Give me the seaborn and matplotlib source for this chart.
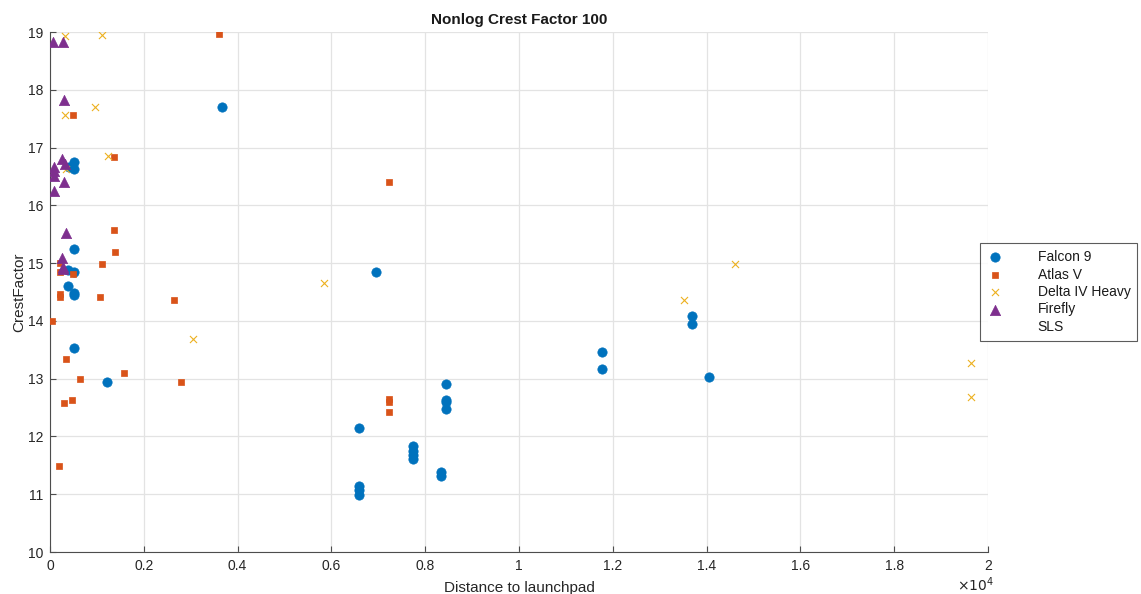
import matplotlib
matplotlib.use("Agg")
import matplotlib.pyplot as plt
import seaborn as sns
import numpy as np

# ---- data (distance in raw units, crest factor) ----
falcon_x = [3670, 400, 510, 510, 510, 380, 510, 380, 510, 510, 510, 1215,
            6590, 6590, 6590, 6590, 6950, 7750, 7750, 7750, 7750, 8340, 8340,
            8440, 8440, 8440, 8440, 13680, 13680, 14050, 11780, 11780]
falcon_y = [17.70, 16.67, 16.75, 16.63, 15.25, 14.88, 14.84, 14.61, 14.48, 14.44, 13.53, 12.94,
            12.15, 11.15, 11.08, 10.98, 14.84, 11.84, 11.75, 11.68, 11.61, 11.38, 11.31,
            12.91, 12.63, 12.60, 12.47, 14.09, 13.94, 13.03, 13.46, 13.17]

atlas_x = [3600, 484, 1365, 1358, 1390, 1100, 213, 213, 484, 213, 213, 1070, 2640,
           43, 335, 646, 1585, 2800, 305, 476, 185, 7230, 7235, 7235, 7235]
atlas_y = [18.97, 17.56, 16.84, 15.58, 15.20, 14.99, 15.00, 14.85, 14.82, 14.47, 14.42, 14.42, 14.36,
           13.99, 13.34, 13.00, 13.10, 12.95, 12.58, 12.63, 11.49, 16.40, 12.65, 12.59, 12.43]

delta_x = [320, 1100, 960, 320, 1230, 340, 5840, 3040, 13520, 14600, 19640, 19640]
delta_y = [18.93, 18.95, 17.71, 17.57, 16.85, 16.63, 14.65, 13.69, 14.36, 14.98, 13.27, 12.69]

firefly_x = [70, 270, 300, 256, 320, 85, 85, 85, 300, 85, 335, 262, 284, 284]
firefly_y = [18.83, 18.83, 17.82, 16.80, 16.72, 16.67, 16.60, 16.50, 16.40, 16.24, 15.52, 15.08, 14.94, 14.89]

sls_x = []
sls_y = []

series_names = ["Falcon 9", "Atlas V", "Delta IV Heavy", "Firefly", "SLS"]
colors = ["#0072BD", "#D95319", "#EDB120", "#7E2F8E", "#000000"]

x_ticks = [0, 2000, 4000, 6000, 8000, 10000, 12000, 14000, 16000, 18000, 20000]
x_tick_labels = ["0", "0.2", "0.4", "0.6", "0.8", "1", "1.2", "1.4", "1.6", "1.8", "2"]
y_ticks = [10, 11, 12, 13, 14, 15, 16, 17, 18, 19]

# ---- style ----
sns.set_theme(style="whitegrid")
plt.rcParams["font.family"] = ["Liberation Sans", "DejaVu Sans"]

fig = plt.figure(figsize=(11.41, 5.94), dpi=100)
ax = fig.add_axes([50 / 1141, 1 - 552 / 594, (988 - 50) / 1141, (552 - 32) / 594])

sns.scatterplot(x=falcon_x, y=falcon_y, ax=ax, marker="o", color=colors[0],
                s=45, edgecolor=colors[0], linewidth=0.5, label=series_names[0], zorder=3)
sns.scatterplot(x=atlas_x, y=atlas_y, ax=ax, marker="s", color=colors[1],
                s=24, edgecolor=colors[1], linewidth=0.5, label=series_names[1], zorder=3)
sns.scatterplot(x=delta_x, y=delta_y, ax=ax, marker="x", color=colors[2],
                s=26, linewidth=0.8, label=series_names[2], zorder=3)
sns.scatterplot(x=firefly_x, y=firefly_y, ax=ax, marker="^", color=colors[3],
                s=55, edgecolor=colors[3], linewidth=0.5, label=series_names[3], zorder=3)
ax.plot(sls_x, sls_y, linestyle="none", marker="none", label=series_names[4])

ax.set_xlim(0, 20000)
ax.set_ylim(10, 19)
ax.set_xticks(x_ticks)
ax.set_xticklabels(x_tick_labels)
ax.set_yticks(y_ticks)

ax.set_facecolor("white")
ax.grid(True, color="#e3e3e3", linewidth=0.9)
for side in ["top", "right"]:
    ax.spines[side].set_visible(False)
for side in ["left", "bottom"]:
    ax.spines[side].set_color("#4d4d4d")
    ax.spines[side].set_linewidth(0.8)
ax.tick_params(axis="both", direction="in", length=4, width=0.8, color="#4d4d4d",
               labelsize=10, labelcolor="#262626", pad=5)
ax.tick_params(axis="both", which="both", bottom=True, left=True)

ax.set_title("Nonlog Crest Factor 100", fontsize=11, fontweight="bold", color="#1a1a1a", pad=6)
ax.set_xlabel("Distance to launchpad", fontsize=11, color="#262626", labelpad=6)
ax.set_ylabel("CrestFactor", fontsize=11, color="#262626", labelpad=1)

fig.text(957 / 1141, 1 - 594 / 594, r"$\times10^{4}$", fontsize=10, color="#262626",
         ha="left", va="bottom")

leg = ax.legend(loc="center left", bbox_to_anchor=(980 / 1141, 1 - 292 / 594),
                bbox_transform=fig.transFigure, frameon=True, fancybox=False,
                fontsize=10, handlelength=1.2, handletextpad=2.45, borderpad=0.5,
                labelspacing=0.25, borderaxespad=0)
leg.get_frame().set_edgecolor("#333333")
leg.get_frame().set_linewidth(0.8)
for t in leg.get_texts():
    t.set_color("#1a1a1a")

fig.savefig("out.png", dpi=100, facecolor="white")
